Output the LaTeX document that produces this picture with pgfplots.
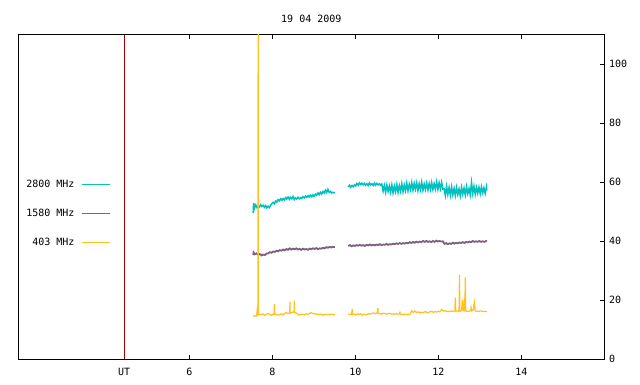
\documentclass[border=0pt]{standalone}
\usepackage{fontspec}
\setmainfont{DejaVu Sans Mono}
\usepackage{pgfplots}
\pgfplotsset{compat=1.18}
\definecolor{cteal}{HTML}{00C0C0}
\definecolor{cpurp}{HTML}{806080}
\definecolor{corange}{HTML}{FFC020}
\definecolor{cred}{HTML}{A00000}
\begin{document}
\begin{tikzpicture}[font=\fontsize{10}{12}\selectfont]
\path[use as bounding box] (0,0) rectangle (640pt,384pt);
\begin{axis}[at={(18.3pt,24.7pt)}, anchor=south west, scale only axis,
  width=586pt, height=324.6pt,
  xmin=1.88, xmax=16, ymin=0, ymax=110,
  xtick={4.43,6,8,10,12,14}, xticklabels={UT,6,8,10,12,14},
  ytick={0,20,40,60,80,100},
  ytick pos=right, yticklabel pos=right,
  xtick pos=both, xticklabel pos=lower,
  tick align=inside, major tick length=4pt,
  axis line style={line width=1pt},
  every tick/.style={black, line width=1pt},
  /pgf/number format/assume math mode=true,
  xticklabel style={anchor=base, yshift=-16.4pt, inner sep=0pt},
  yticklabel style={anchor=west, xshift=4.5pt, inner sep=0pt},
  title={19 04 2009},
  title style={at={(0.5,1)}, anchor=base, yshift=6.7pt, inner sep=0pt},
  unbounded coords=jump,
  legend plot pos=right, legend cell align=right,
  legend style={at={(0.1577,0.4498)}, anchor=east, draw=none, fill=none,
    inner sep=0pt, row sep=21.7pt, column sep=7pt,
    nodes={inner sep=0pt, text height=7.3pt, text depth=0pt}},
  legend image code/.code={\draw[#1, line width=1pt] (0pt,0.2pt) -- (28pt,0.2pt); \path[draw=none,fill=none] (0pt,-3.65pt) (28pt,3.65pt);},
]
\addplot[cred, line width=1pt, forget plot] coordinates {(4.43,0) (4.43,110)};

\addplot[cteal, line width=1.5pt] coordinates {
(7.54,49.6) (7.55,53.0) (7.57,51.2) (7.60,52.3) (7.63,51.4) (7.66,52.0) (7.69,51.6) (7.72,52.4)
(7.75,51.8) (7.78,52.2) (7.81,51.5) (7.84,52.1) (7.87,51.3) (7.90,51.9) (7.93,51.4) (7.96,52.2)
(7.99,52.8) (8.02,53.2) (8.05,52.7) (8.08,53.6) (8.11,53.3) (8.14,54.1) (8.17,53.7) (8.20,54.4)
(8.23,53.9) (8.26,54.5) (8.29,54.0) (8.32,54.8) (8.35,54.3) (8.38,55.0) (8.41,54.2) (8.44,54.9)
(8.47,54.4) (8.50,55.2) (8.53,54.1) (8.56,54.7) (8.59,54.3) (8.62,54.9) (8.65,54.4) (8.68,54.8)
(8.71,54.5) (8.74,55.1) (8.77,54.7) (8.80,55.3) (8.83,54.9) (8.86,55.5) (8.89,55.0) (8.92,55.6)
(8.95,55.1) (8.98,55.7) (9.01,55.2) (9.04,56.0) (9.07,55.6) (9.10,56.4) (9.13,55.8) (9.16,56.6)
(9.19,56.0) (9.22,56.9) (9.25,56.3) (9.28,57.3) (9.31,56.5) (9.34,57.6) (9.37,56.6) (9.40,56.9)
(9.43,56.4) (9.46,56.6) (9.49,56.4) (9.51,56.5)
(9.67,nan)
(9.83,58.4) (9.86,59.0) (9.89,58.3) (9.92,58.9) (9.95,58.5) (9.98,59.1) (10.01,58.7) (10.04,59.6)
(10.07,59.0) (10.10,59.8) (10.13,59.2) (10.16,59.7) (10.19,59.1) (10.22,59.6) (10.25,59.0) (10.28,59.5)
(10.31,58.9) (10.34,59.8) (10.37,59.1) (10.40,59.5) (10.43,58.9) (10.46,59.7) (10.49,59.0) (10.52,59.6)
(10.55,59.1) (10.58,59.5) (10.61,59.0) (10.64,59.4) (10.67,57.0) (10.70,58.9) (10.73,56.6) (10.76,59.0)
(10.79,56.9) (10.82,58.8) (10.85,56.7) (10.88,59.1) (10.91,56.4) (10.94,58.7) (10.97,56.8) (11.00,59.2)
(11.03,56.6) (11.06,58.9) (11.09,57.0) (11.12,59.5) (11.15,56.8) (11.18,59.1) (11.21,57.2) (11.24,59.7)
(11.27,57.1) (11.30,59.3) (11.33,57.5) (11.36,59.9) (11.39,57.3) (11.42,59.6) (11.45,57.6) (11.48,59.8)
(11.51,57.2) (11.54,59.5) (11.57,57.5) (11.60,60.0) (11.63,57.3) (11.66,59.4) (11.69,57.6) (11.72,59.7)
(11.75,57.4) (11.78,59.6) (11.81,57.6) (11.84,59.9) (11.87,57.5) (11.90,59.5) (11.93,57.7) (11.96,60.1)
(11.99,57.6) (12.02,59.8) (12.05,57.8) (12.08,60.0) (12.11,57.7) (12.14,57.8) (12.17,55.5) (12.20,58.6)
(12.23,55.9) (12.26,58.2) (12.29,55.6) (12.32,58.4) (12.35,55.7) (12.38,57.9) (12.41,55.5) (12.44,58.2)
(12.47,55.8) (12.50,57.7) (12.53,55.4) (12.56,58.3) (12.59,56.0) (12.62,58.0) (12.65,55.7) (12.68,58.5)
(12.71,56.1) (12.74,57.9) (12.77,55.8) (12.80,59.9) (12.83,56.2) (12.86,58.6) (12.89,55.9) (12.92,58.2)
(12.95,56.3) (12.98,58.3) (13.01,56.1) (13.04,58.5) (13.07,56.4) (13.10,58.1) (13.13,56.2) (13.16,58.4)
(13.17,57.2)
};
\addlegendentry{2800 MHz}

\addplot[cpurp, line width=1.8pt] coordinates {
(7.54,35.3) (7.55,36.2) (7.58,35.6) (7.62,35.9) (7.66,35.4) (7.70,35.7) (7.74,35.2) (7.78,35.5)
(7.82,35.3) (7.86,35.8) (7.90,35.9) (7.94,36.3) (7.98,36.1) (8.02,36.5) (8.06,36.4) (8.10,36.8)
(8.14,36.6) (8.18,37.0) (8.22,36.8) (8.26,37.2) (8.30,36.9) (8.34,37.4) (8.38,37.1) (8.42,37.6)
(8.46,37.2) (8.50,37.5) (8.54,37.3) (8.58,37.6) (8.62,37.2) (8.66,37.4) (8.70,37.1) (8.74,37.5)
(8.78,37.2) (8.82,37.4) (8.86,37.1) (8.90,37.5) (8.94,37.3) (8.98,37.6) (9.02,37.4) (9.06,37.7)
(9.10,37.3) (9.14,37.6) (9.18,37.5) (9.22,37.8) (9.26,37.6) (9.30,38.0) (9.34,37.8) (9.38,38.1)
(9.42,37.9) (9.46,38.1) (9.51,38.0)
(9.67,nan)
(9.83,38.4) (9.87,38.7) (9.91,38.3) (9.95,38.6) (9.99,38.4) (10.03,38.7) (10.07,38.5) (10.11,38.8)
(10.15,38.5) (10.19,38.7) (10.23,38.4) (10.27,38.8) (10.31,38.6) (10.35,38.9) (10.39,38.6) (10.43,38.8)
(10.47,38.6) (10.51,38.9) (10.55,38.7) (10.59,39.0) (10.63,38.7) (10.67,38.9) (10.71,38.8) (10.75,39.1)
(10.79,38.8) (10.83,39.0) (10.87,38.9) (10.91,39.2) (10.95,39.0) (10.99,39.3) (11.03,39.1) (11.07,39.4)
(11.11,39.1) (11.15,39.4) (11.19,39.2) (11.23,39.5) (11.27,39.3) (11.31,39.7) (11.35,39.4) (11.39,39.8)
(11.43,39.5) (11.47,39.9) (11.51,39.6) (11.55,39.9) (11.59,39.7) (11.63,40.1) (11.67,39.8) (11.71,40.1)
(11.75,39.8) (11.79,40.0) (11.83,39.7) (11.87,40.1) (11.91,39.8) (11.95,40.2) (11.99,39.9) (12.03,40.1)
(12.07,39.9) (12.11,40.0) (12.15,39.1) (12.19,39.4) (12.23,39.0) (12.27,39.3) (12.31,39.1) (12.35,39.5)
(12.39,39.2) (12.43,39.5) (12.47,39.3) (12.51,39.6) (12.55,39.4) (12.59,39.7) (12.63,39.4) (12.67,39.8)
(12.71,39.6) (12.75,39.9) (12.79,39.7) (12.83,40.1) (12.87,39.8) (12.91,40.0) (12.95,39.8) (12.99,40.1)
(13.03,39.8) (13.07,40.0) (13.11,39.8) (13.15,40.1) (13.17,39.9)
};
\addlegendentry{1580 MHz}

\addplot[corange, line width=1.2pt] coordinates {
(7.54,14.8) (7.58,14.6) (7.62,14.7) (7.645,17.8) (7.65,15.0) (7.655,15.0) (7.66,150) (7.665,15.1)
(7.70,15.3) (7.74,15.1) (7.78,15.4) (7.82,14.9) (7.86,15.3) (7.90,15.5) (7.94,15.2) (7.98,14.9)
(8.02,15.3) (8.045,15.2) (8.05,18.7) (8.055,15.2) (8.10,15.3) (8.14,15.0) (8.18,15.2) (8.22,15.4)
(8.26,15.1) (8.30,15.6) (8.34,15.8) (8.38,15.5) (8.42,15.7) (8.425,19.5) (8.43,15.6) (8.47,15.9)
(8.50,16.0) (8.525,16.1) (8.53,19.9) (8.535,15.9) (8.58,15.7) (8.62,15.2) (8.66,15.0) (8.70,15.3)
(8.74,15.2) (8.78,15.1) (8.82,15.4) (8.86,15.2) (8.90,15.6) (8.94,15.8) (8.98,15.5) (9.02,15.4)
(9.06,15.3) (9.10,15.3) (9.14,15.2) (9.18,15.3) (9.22,14.9) (9.26,15.2) (9.30,15.1) (9.34,15.3)
(9.38,15.1) (9.42,15.3) (9.46,15.1) (9.51,15.2)
(9.67,nan)
(9.83,15.2) (9.87,15.3) (9.91,15.1) (9.925,17.0) (9.93,15.2) (9.97,15.3) (10.01,15.0) (10.05,15.4)
(10.09,15.2) (10.13,15.4) (10.17,15.0) (10.21,15.3) (10.25,15.1) (10.29,15.2) (10.33,15.5) (10.37,15.3)
(10.41,15.6) (10.45,15.7) (10.49,15.4) (10.53,15.8) (10.545,17.4) (10.55,15.6) (10.59,15.4) (10.63,15.3)
(10.67,15.6) (10.71,15.5) (10.75,15.3) (10.79,15.5) (10.83,15.6) (10.87,15.3) (10.91,15.4) (10.95,15.2)
(10.99,15.5) (11.03,15.3) (11.07,15.4) (11.075,16.2) (11.08,15.3) (11.12,15.2) (11.16,15.2) (11.20,15.3)
(11.24,15.2) (11.28,15.3) (11.32,15.2) (11.36,16.5) (11.40,15.9) (11.44,16.4) (11.48,15.8) (11.52,16.1)
(11.56,15.7) (11.60,15.9) (11.64,15.8) (11.68,16.2) (11.72,15.9) (11.76,15.8) (11.80,16.1) (11.84,16.3)
(11.88,15.9) (11.92,16.2) (11.96,16.0) (12.00,16.3) (12.04,16.1) (12.08,16.9) (12.12,16.3) (12.16,16.5)
(12.20,16.2) (12.24,16.3) (12.28,16.1) (12.32,16.4) (12.36,16.2) (12.40,16.5) (12.41,20.9) (12.42,16.3)
(12.46,16.4) (12.50,16.2) (12.51,28.6) (12.52,16.3) (12.56,16.5) (12.58,20.1) (12.60,16.3) (12.62,18.9)
(12.64,16.2) (12.65,27.8) (12.66,16.4) (12.70,16.2) (12.74,16.3) (12.78,16.6) (12.79,17.5) (12.80,16.4)
(12.84,16.7) (12.87,19.2) (12.89,16.4) (12.93,16.3) (12.97,16.2) (13.01,16.4) (13.05,16.3) (13.09,16.2)
(13.13,16.3) (13.17,16.1)
};
\addlegendentry{403 MHz}
\end{axis}
\end{tikzpicture}
\end{document}
